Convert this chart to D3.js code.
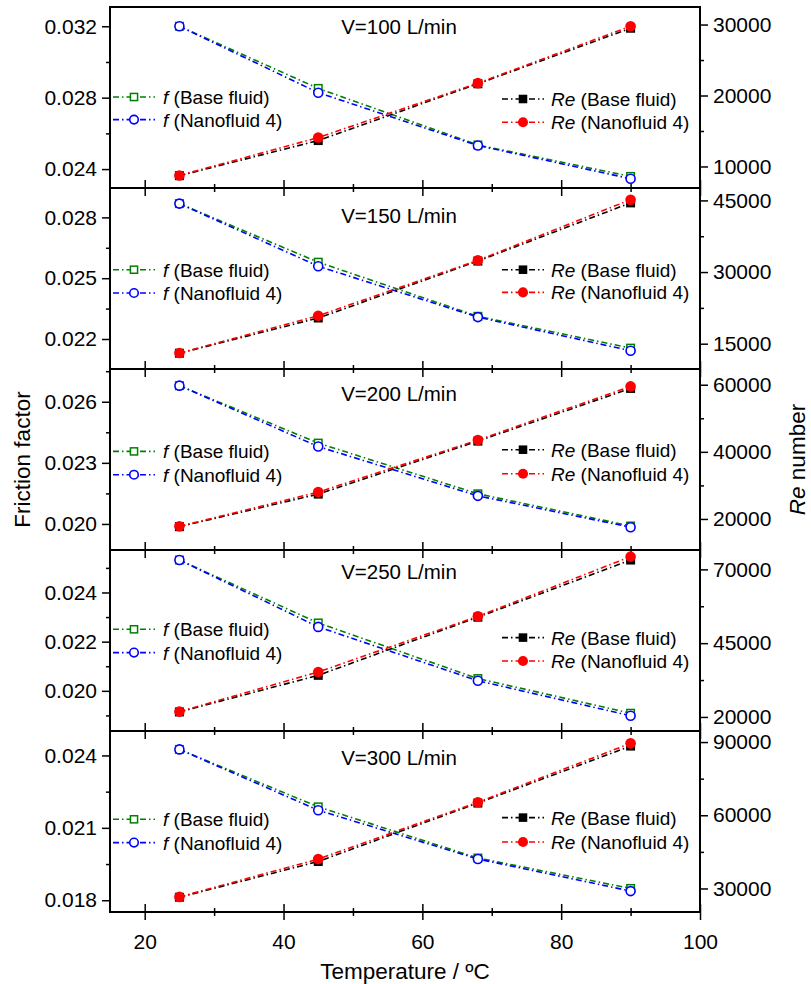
<!DOCTYPE html>
<html>
<head>
<meta charset="utf-8">
<script src="https://cdn.jsdelivr.net/npm/d3@7"></script>
<style>
  body { margin: 0; background: #fff; }
  svg { font-family: "Liberation Sans", Arial, sans-serif; }
</style>
</head>
<body>
<svg id="chart" width="811" height="984"></svg>
<script>
// temperatures (ºC) and flow rates (L/min)
const temps = [25, 45, 68, 90];
const flows = [100, 150, 200, 250, 300];

// friction factor, one row per flow rate
const fBase = [
  [0.0320, 0.02852, 0.02535, 0.02359],
  [0.02868, 0.02579, 0.02312, 0.02155],
  [0.02679, 0.02397, 0.02148, 0.01990],
  [0.02532, 0.02276, 0.02050, 0.01909],
  [0.02425, 0.02187, 0.01975, 0.01849]
];
const fNano = [
  [0.0320, 0.02828, 0.02532, 0.02346],
  [0.02868, 0.02559, 0.02308, 0.02142],
  [0.02679, 0.02380, 0.02138, 0.01984],
  [0.02532, 0.02260, 0.02041, 0.01899],
  [0.02425, 0.02173, 0.01971, 0.01838]
];

// Reynolds number
const reBase = [
  [8700, 13650, 21650, 29480],
  [13000, 20380, 32300, 44480],
  [17700, 27400, 43200, 58900],
  [21700, 34100, 53800, 73160],
  [26400, 41070, 65000, 88360]
];
const reNano = [
  [8736, 14073, 21740, 29760],
  [13053, 20862, 32450, 45150],
  [17800, 28000, 43500, 59500],
  [21803, 35238, 54082, 74320],
  [26540, 42033, 65357, 89464]
];

// axis ranges and tick labels per panel
const fDomains = [[0.02294, 0.03308], [0.02052, 0.02945], [0.018721, 0.027608], [0.018367, 0.025727], [0.017513, 0.025013]];
const fTicks = [[0.024, 0.028, 0.032], [0.022, 0.025, 0.028], [0.020, 0.023, 0.026], [0.020, 0.022, 0.024], [0.018, 0.021, 0.024]];
const reDomains = [[6966, 32472], [9703, 47596], [10746, 64687], [15238, 76565], [20357, 94533]];
const reTicks = [[10000, 20000, 30000], [15000, 30000, 45000], [20000, 40000, 60000], [20000, 45000, 70000], [30000, 60000, 90000]];
const xTicks = [20, 40, 60, 80, 100];
const xMinor = [30, 50, 70, 90];

// layout
const left = 110, right = 700, top0 = 7, panelH = 181;
const titleY = [19, 27, 24, 21, 26];
const legLY = [[90, 112.6], [81.7, 105], [82.4, 105.7], [79.3, 102.6], [88.3, 111.6]];
const legRY = [[92, 115.3], [81.7, 104.4], [80.7, 104.7], [87.6, 111], [86.6, 111]];

const dash = "6,3,1.5,3";
const series = [
  { name: "fBase", color: "#008000", marker: "sq-open" },
  { name: "fNano", color: "#0000ff", marker: "ci-open" },
  { name: "reBase", color: "#000000", marker: "sq-fill" },
  { name: "reNano", color: "#ff0000", marker: "ci-fill" }
];

const svg = d3.select("#chart");
const x = d3.scaleLinear().domain([15, 100]).range([left, right]);

function drawMarker(g, type, color, cx, cy, scale = 1) {
  if (type === "sq-open") {
    const s = 7.5 * scale;
    g.append("rect").attr("x", cx - s / 2).attr("y", cy - s / 2).attr("width", s).attr("height", s)
      .attr("fill", "#fff").attr("stroke", color).attr("stroke-width", 1.5);
  } else if (type === "ci-open") {
    g.append("circle").attr("cx", cx).attr("cy", cy).attr("r", 4.5 * scale)
      .attr("fill", "#fff").attr("stroke", color).attr("stroke-width", 1.6);
  } else if (type === "sq-fill") {
    const s = 9 * scale;
    g.append("rect").attr("x", cx - s / 2).attr("y", cy - s / 2).attr("width", s).attr("height", s)
      .attr("fill", color);
  } else {
    g.append("circle").attr("cx", cx).attr("cy", cy).attr("r", 5.3 * scale).attr("fill", color);
  }
}

function minorTicks(domain, majors) {
  const step = (majors[1] - majors[0]) / 2;
  const out = [];
  for (let v = majors[0] - step * 4; v <= domain[1]; v += step) {
    if (v >= domain[0] && !majors.some(m => Math.abs(m - v) < step / 10)) out.push(v);
  }
  return out;
}

flows.forEach((flow, i) => {
  const top = top0 + i * panelH;
  const bottom = top + panelH;
  const yL = d3.scaleLinear().domain(fDomains[i]).range([bottom, top]);
  const yR = d3.scaleLinear().domain(reDomains[i]).range([bottom, top]);
  const g = svg.append("g");

  // left axis
  const la = g.append("g").attr("transform", `translate(${left},0)`)
    .call(d3.axisLeft(yL).tickValues(fTicks[i]).tickSize(8).tickPadding(5).tickFormat(d3.format(".3f")));
  la.append("g").call(d3.axisLeft(yL).tickValues(minorTicks(fDomains[i], fTicks[i])).tickSize(4).tickFormat(""));
  // right axis
  const ra = g.append("g").attr("transform", `translate(${right},0)`)
    .call(d3.axisRight(yR).tickValues(reTicks[i]).tickSize(8).tickPadding(5).tickFormat(d3.format("d")));
  ra.append("g").call(d3.axisRight(yR).tickValues(minorTicks(reDomains[i], reTicks[i])).tickSize(4).tickFormat(""));
  g.selectAll(".domain").remove();
  g.selectAll(".tick line").attr("stroke-width", 1.5);
  g.selectAll(".tick text").attr("font-size", 21).attr("fill", "#000")
    .attr("font-family", "Liberation Sans, Arial, sans-serif");

  // x ticks on the bottom edge of every panel
  const xa = g.append("g").attr("transform", `translate(0,${bottom})`)
    .call(d3.axisBottom(x).tickValues(xTicks).tickSize(8).tickPadding(14)
      .tickFormat(i === flows.length - 1 ? d3.format("d") : ""));
  xa.selectAll(".tick line").attr("y1", -8).attr("y2", 8).attr("stroke-width", 1.5);
  const xm = g.append("g").attr("transform", `translate(0,${bottom})`)
    .call(d3.axisBottom(x).tickValues(xMinor).tickSize(4).tickFormat(""));
  xm.selectAll(".tick line").attr("y1", -4).attr("y2", 4).attr("stroke-width", 1.5);
  xa.select(".domain").remove();
  xm.select(".domain").remove();
  xa.selectAll(".tick text").attr("font-size", 21).attr("fill", "#000")
    .attr("font-family", "Liberation Sans, Arial, sans-serif");

  // frame
  g.append("rect").attr("x", left).attr("y", top).attr("width", right - left).attr("height", panelH)
    .attr("fill", "none").attr("stroke", "#000").attr("stroke-width", 2);

  // title
  g.append("text").attr("x", 399).attr("y", top + titleY[i]).attr("text-anchor", "middle")
    .attr("dominant-baseline", "central").attr("font-size", 20.5).text(`V=${flow} L/min`);

  // series
  const data = { fBase: fBase[i], fNano: fNano[i], reBase: reBase[i], reNano: reNano[i] };
  series.forEach(s => {
    const y = s.name.startsWith("f") ? yL : yR;
    const line = d3.line().x((d, k) => x(temps[k])).y(d => y(d));
    g.append("path").datum(data[s.name]).attr("d", line).attr("fill", "none")
      .attr("stroke", s.color).attr("stroke-width", 1.6).attr("stroke-dasharray", dash);
    data[s.name].forEach((v, k) => drawMarker(g, s.marker, s.color, x(temps[k]), y(v)));
  });

  // legends
  const legL = [
    { s: series[0], sym: "f", label: " (Base fluid)" },
    { s: series[1], sym: "f", label: " (Nanofluid 4)" }
  ];
  legL.forEach((d, k) => {
    const ly = top + legLY[i][k];
    g.append("line").attr("x1", 113).attr("x2", 155).attr("y1", ly).attr("y2", ly)
      .attr("stroke", d.s.color).attr("stroke-width", 1.6).attr("stroke-dasharray", dash);
    drawMarker(g, d.s.marker, d.s.color, 134, ly, 0.95);
    const t = g.append("text").attr("x", 163).attr("y", ly).attr("dominant-baseline", "central").attr("font-size", 19);
    t.append("tspan").attr("font-style", "italic").text(d.sym);
    t.append("tspan").text(d.label);
  });
  const legR = [
    { s: series[2], sym: "Re", label: " (Base fluid)" },
    { s: series[3], sym: "Re", label: " (Nanofluid 4)" }
  ];
  legR.forEach((d, k) => {
    const ly = top + legRY[i][k];
    g.append("line").attr("x1", 502).attr("x2", 544).attr("y1", ly).attr("y2", ly)
      .attr("stroke", d.s.color).attr("stroke-width", 1.6).attr("stroke-dasharray", dash);
    drawMarker(g, d.s.marker, d.s.color, 523, ly, 0.95);
    const t = g.append("text").attr("x", 551).attr("y", ly).attr("dominant-baseline", "central").attr("font-size", 19);
    t.append("tspan").attr("font-style", "italic").text(d.sym);
    t.append("tspan").text(d.label);
  });
});

// axis titles
const midY = top0 + panelH * flows.length / 2;
svg.append("text").attr("transform", `translate(22,${midY}) rotate(-90)`).attr("text-anchor", "middle")
  .attr("dominant-baseline", "central").attr("font-size", 22.5).text("Friction factor");
const reT = svg.append("text").attr("transform", `translate(797,${midY}) rotate(-90)`).attr("text-anchor", "middle")
  .attr("dominant-baseline", "central").attr("font-size", 22.5);
reT.append("tspan").attr("font-style", "italic").text("Re");
reT.append("tspan").text(" number");
svg.append("text").attr("x", (left + right) / 2).attr("y", 971).attr("text-anchor", "middle")
  .attr("dominant-baseline", "central").attr("font-size", 22.5).text("Temperature / ºC");
</script>
</body>
</html>
